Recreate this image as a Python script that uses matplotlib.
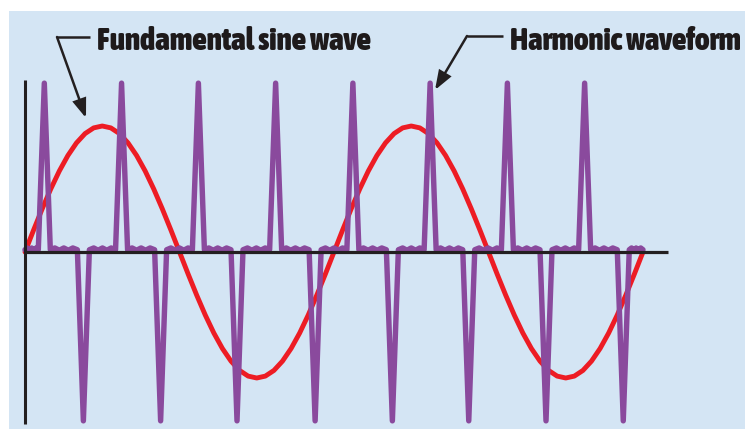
import matplotlib
matplotlib.use("Agg")
import matplotlib.pyplot as plt
import matplotlib.transforms as mtransforms
from matplotlib.lines import Line2D
from matplotlib.patches import FancyArrowPatch
from matplotlib import font_manager
from matplotlib.font_manager import FontProperties

# ---------------- data (x in degrees of the fundamental) ----------------
red_deg = list(range(0, 721, 10))
red_vals = [0.0, 0.174, 0.342, 0.5, 0.643, 0.766, 0.866, 0.94, 0.985,
            1.0, 0.985, 0.94, 0.866, 0.766, 0.643, 0.5, 0.342, 0.174,
            0.0, -0.174, -0.342, -0.5, -0.643, -0.766, -0.866, -0.94, -0.985,
            -1.0, -0.985, -0.94, -0.866, -0.766, -0.643, -0.5, -0.342, -0.174,
            0.0, 0.174, 0.342, 0.5, 0.643, 0.766, 0.866, 0.94, 0.985,
            1.0, 0.985, 0.94, 0.866, 0.766, 0.643, 0.5, 0.342, 0.174,
            0.0, -0.174, -0.342, -0.5, -0.643, -0.766, -0.866, -0.94, -0.985,
            -1.0, -0.985, -0.94, -0.866, -0.766, -0.643, -0.5, -0.342, -0.174,
            0.0]

up_spike_deg = [22.5, 112.5, 202, 292, 382, 472, 562, 652]
down_spike_deg = [68, 158, 247, 338, 428, 517, 607, 697]
spike_height = 1.34
spike_halfwidth = 7.0
purple_baseline = 0.018
flat_ripple = [0.0, 0.014, -0.004, 0.014, -0.004, 0.014, 0.0]
purple_end = 720

axis_x_end = 749
axis_y_extent = 1.365

title_left = "Fundamental sine wave"
title_right = "Harmonic waveform"

# ---------------- build purple polyline from measured spikes ----------------
events = sorted([(d, spike_height) for d in up_spike_deg] +
                [(d, -spike_height) for d in down_spike_deg])
px, py = [], []
prev = 0.0


def add_flat(a, b):
    n = len(flat_ripple)
    for i, r in enumerate(flat_ripple):
        px.append(a + (b - a) * i / (n - 1))
        py.append(purple_baseline + r)


for c, amp in events:
    add_flat(prev, c - spike_halfwidth)
    px.extend([c, c + spike_halfwidth])
    py.extend([amp, purple_baseline])
    prev = c + spike_halfwidth
add_flat(prev, purple_end)

# ---------------- figure ----------------
W, H = 745, 429
fig = plt.figure(figsize=(W / 100, H / 100), dpi=100)
fig.patch.set_facecolor("white")

bg = "#D4E5F4"
ax = fig.add_axes([9 / W, 0, (W - 9) / W, (H - 11) / H])
ax.set_facecolor(bg)
for s in ax.spines.values():
    s.set_visible(False)
ax.set_xticks([])
ax.set_yticks([])

deg_per_px = 360 / 309.0
ax.set_xlim((9 - 25) * deg_per_px, (745 - 25) * deg_per_px)
ax.set_ylim(-(429 - 252) / 126.0, (252 - 11) / 126.0)

ax.plot(red_deg, red_vals, color="#ED1C24", lw=3.5, zorder=2,
        solid_capstyle="round", solid_joinstyle="round")
ax.plot(px, py, color="#8A4A9D", lw=3.9, zorder=3,
        solid_capstyle="round", solid_joinstyle="round")

axis_col = "#231F20"
ax.plot([0, axis_x_end], [0, 0], color=axis_col, lw=2.3, zorder=5,
        solid_capstyle="butt")
ax.plot([0, 0], [-axis_y_extent, axis_y_extent], color=axis_col, lw=2.2,
        zorder=5, solid_capstyle="butt")

# ---------------- labels ----------------
def pick_font():
    best = None
    best_score = -1
    for f in font_manager.fontManager.ttflist:
        nm = f.name.lower()
        st = f.stretch
        narrow = ("narrow" in nm or "condensed" in nm or
                  (isinstance(st, str) and "condensed" in st) or
                  (isinstance(st, int) and st < 500))
        if not narrow:
            continue
        w = f.weight if isinstance(f.weight, int) else (700 if "bold" in str(f.weight) else 400)
        if "italic" in f.style or "oblique" in f.style:
            continue
        score = 1000 - abs(w - 850)
        if score > best_score:
            best_score = score
            best = f.fname
    if best:
        return FontProperties(fname=best)
    return FontProperties(family="DejaVu Sans", weight="bold")


fp = pick_font()
t1 = fig.text(97 / W, 1 - 49.5 / H, title_left, fontproperties=fp,
              color="#1E1A1B", ha="left", va="baseline")
t2 = fig.text(510 / W, 1 - 49.5 / H, title_right, fontproperties=fp,
              color="#1E1A1B", ha="left", va="baseline")
# size the text so it spans the same width as in the reference
renderer = fig.canvas.get_renderer()
for t, target in ((t1, 273.0), (t2, 230.0)):
    t.set_fontsize(20)
    w = t.get_window_extent(renderer).width
    t.set_fontsize(min(24.0, 20 * target / w))

ident = mtransforms.IdentityTransform()


def leader(x0, y0, xc, yc, xt, yt):
    fig.add_artist(Line2D([x0, xc], [H - y0, H - yc], color=axis_col, lw=1.8,
                          transform=ident, solid_capstyle="butt"))
    arr = FancyArrowPatch((xc, H - yc), (xt, H - yt), transform=ident,
                          arrowstyle="-|>,head_length=0.55,head_width=0.2",
                          mutation_scale=20, lw=1.8, color=axis_col,
                          shrinkA=0, shrinkB=0, joinstyle="miter")
    fig.add_artist(arr)


leader(90, 37, 57, 37, 86, 118)
leader(503, 36, 467, 36, 435, 90)

fig.savefig("out.png", dpi=100, facecolor="white")
